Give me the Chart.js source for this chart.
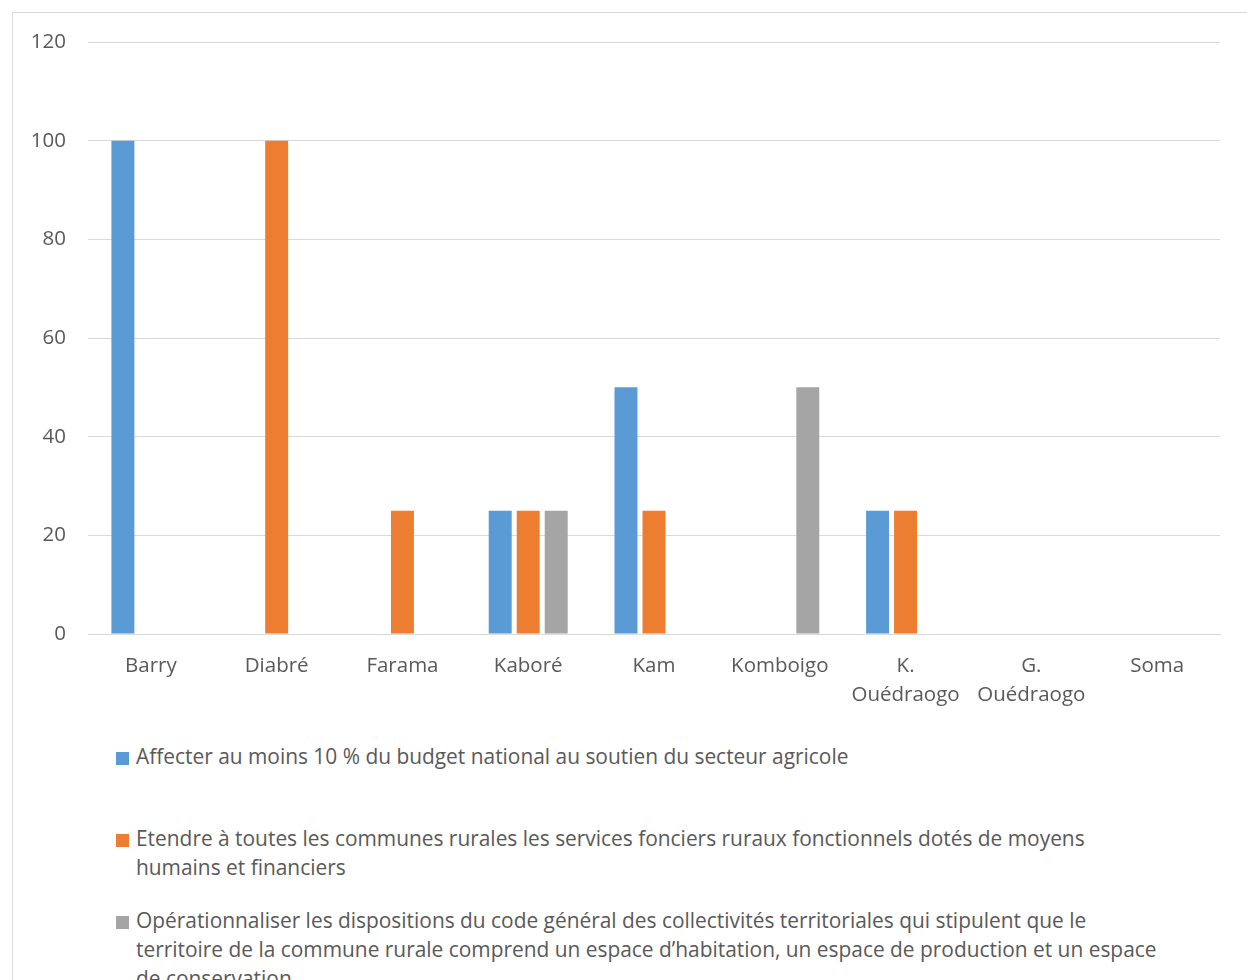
<!DOCTYPE html>
<html>
<head>
<meta charset="utf-8">
<script src="https://cdn.jsdelivr.net/npm/chart.js@4.4.1/dist/chart.umd.min.js"></script>
<style>
  html, body { margin: 0; padding: 0; background: #fff; overflow: hidden; }
  body { width: 1247px; height: 980px; position: relative; font-family: "Open Sans", sans-serif; }
  #frame { position: absolute; left: 12px; top: 12px; width: 1400px; height: 1200px; border: 1px solid #d9d9d9; }
  #wrap { position: absolute; left: 0; top: 0; width: 1247px; height: 720px; }
  #legend { position: absolute; left: 116px; top: 744px; width: 1100px; color: #595959; font-size: 20.9px; }
  .item { display: flex; align-items: flex-start; height: 82px; }
  .box { width: 13px; height: 13px; margin: 8px 7px 0 0; flex: none; }
  .txt { line-height: 29px; margin-top: -2px; white-space: nowrap; }
</style>
</head>
<body>
<div id="frame"></div>
<div id="wrap"><canvas id="myChart"></canvas></div>
<div id="legend"></div>
<script>
// communes on the x axis
const communes = ["Barry", "Diabré", "Farama", "Kaboré", "Kam", "Komboigo",
    ["K.", "Ouédraogo"], ["G.", "Ouédraogo"], "Soma"];

// one array per measure
const affecter_budget = [100, 0, 0, 25, 50, 0, 25, 0, 0];
const etendre_services = [0, 100, 25, 25, 25, 0, 25, 0, 0];
const operationnaliser_code = [0, 0, 0, 25, 0, 50, 0, 0, 0];

const series_names = [
    ["Affecter au moins 10 % du budget national au soutien du secteur agricole"],
    ["Etendre à toutes les communes rurales les services fonciers ruraux fonctionnels dotés de moyens",
     "humains et financiers"],
    ["Opérationnaliser les dispositions du code général des collectivités territoriales qui stipulent que le",
     "territoire de la commune rurale comprend un espace d’habitation, un espace de production et un espace",
     "de conservation"]
];
const y_ticks = [0, 20, 40, 60, 80, 100, 120];

const colors = ['#5b9bd5', '#ed7d31', '#a5a5a5'];
const font = { family: "Open Sans", size: 20.5, lineHeight: '29px' };

function set_for(i, values) {
    return {
        label: series_names[i].join(' '),
        data: values,
        backgroundColor: colors[i],
        borderWidth: 0,
        categoryPercentage: 0.668,
        barPercentage: 0.82
    };
}

let ctx = document.getElementById('myChart').getContext('2d');
let myChart = new Chart(ctx, {
    type: 'bar',
    data: {
        labels: communes,
        datasets: [
            set_for(0, affecter_budget),
            set_for(1, etendre_services),
            set_for(2, operationnaliser_code)
        ]
    },
    options: {
        responsive: true,
        maintainAspectRatio: false,
        animation: false,
        layout: { padding: { top: 42, right: 27, left: 0, bottom: 0 } },
        plugins: { legend: { display: false }, tooltip: { enabled: false } },
        scales: {
            x: {
                grid: { display: false },
                border: { color: '#d9d9d9', width: 1 },
                ticks: { color: '#595959', font: font, padding: 10, maxRotation: 0, autoSkip: false },
                afterFit: (s) => { s.height = 86; }
            },
            y: {
                min: 0, max: 120,
                afterBuildTicks: (s) => { s.ticks = y_ticks.map(v => ({ value: v })); },
                grid: { color: '#d9d9d9', drawTicks: false },
                border: { display: false },
                ticks: { color: '#595959', font: font, padding: 22 },
                afterFit: (s) => { s.width = 88; }
            }
        }
    }
});

// legend drawn from the chart's own datasets
let legend = document.getElementById('legend');
myChart.data.datasets.forEach((ds, i) => {
    let item = document.createElement('div');
    item.className = 'item';
    let box = document.createElement('div');
    box.className = 'box';
    box.style.background = ds.backgroundColor;
    let txt = document.createElement('div');
    txt.className = 'txt';
    txt.innerHTML = series_names[i].join('<br>');
    item.appendChild(box);
    item.appendChild(txt);
    legend.appendChild(item);
});
</script>
</body>
</html>
